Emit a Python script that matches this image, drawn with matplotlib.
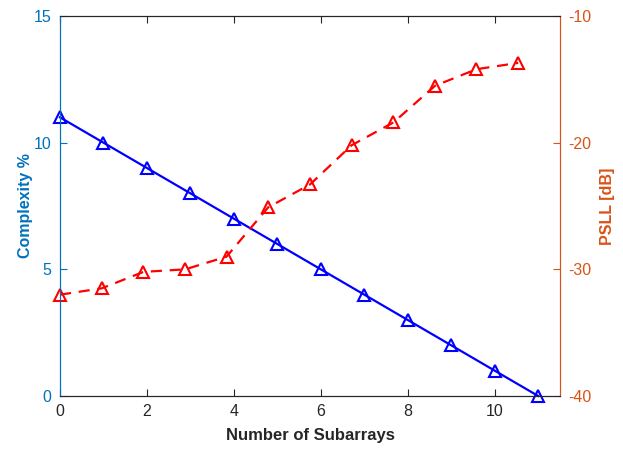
import matplotlib
matplotlib.use("Agg")
import matplotlib.pyplot as plt

plt.rcParams['font.family'] = ['Liberation Sans', 'DejaVu Sans']
plt.rcParams['axes.unicode_minus'] = False

# numero de subarrays x complexidade (eixo esquerdo)
subarrays = [0, 1, 2, 3, 4, 5, 6, 7, 8, 9, 10, 11]
complexity = [11, 10, 9, 8, 7, 6, 5, 4, 3, 2, 1, 0]

# PSLL (eixo direito)
pssl_x = [0, 0.96, 1.92, 2.88, 3.83, 4.79, 5.75, 6.71, 7.67, 8.63, 9.58, 10.54]
psll_db = [-32.0, -31.5, -30.2, -30.0, -29.0, -25.1, -23.3, -20.2, -18.4, -15.5, -14.2, -13.7]

blue_ax = '#0072BD'
orange_ax = '#D95319'
dark = '#262626'

fig = plt.figure(figsize=(6.23, 4.5), dpi=100)
ax = fig.add_axes([0.0963, 0.12, 0.8025, 0.8444])
ax2 = ax.twinx()

ax.plot(subarrays, complexity, 'b-', lw=1.6, marker='^', ms=9,
        mfc='none', mew=1.5, clip_on=False, zorder=3)
ax2.plot(pssl_x, psll_db, 'r--', lw=1.6, marker='^', ms=9,
         mfc='none', mew=1.5, dashes=(5, 3.5), clip_on=False)

ax.set_xlim(0, 11.5)
ax.set_ylim(0, 15)
ax2.set_ylim(-40, -10)
ax.set_xticks([0, 2, 4, 6, 8, 10])
ax.set_yticks([0, 5, 10, 15])
ax2.set_yticks([-40, -30, -20, -10])

ax.set_xlabel("Number of Subarrays", fontsize=12, fontweight='bold', color=dark, labelpad=6)
ax.set_ylabel("Complexity %", fontsize=11.5, fontweight='bold', color=blue_ax, labelpad=1)
ax2.set_ylabel("PSLL [dB]", fontsize=11.5, fontweight='bold', color=orange_ax, labelpad=6)

ax.tick_params(axis='x', direction='in', top=True, colors=dark, labelsize=11.5, length=5, pad=6)
ax.tick_params(axis='y', direction='in', colors=blue_ax, labelsize=11.5, length=5, pad=6)
ax2.tick_params(axis='y', direction='in', colors=orange_ax, labelsize=11.5, length=5, pad=6)

for a in (ax, ax2):
    a.spines['top'].set_color(dark)
    a.spines['bottom'].set_color(dark)
    a.spines['left'].set_color(blue_ax)
    a.spines['right'].set_color(orange_ax)

fig.savefig("out.png", dpi=100)
